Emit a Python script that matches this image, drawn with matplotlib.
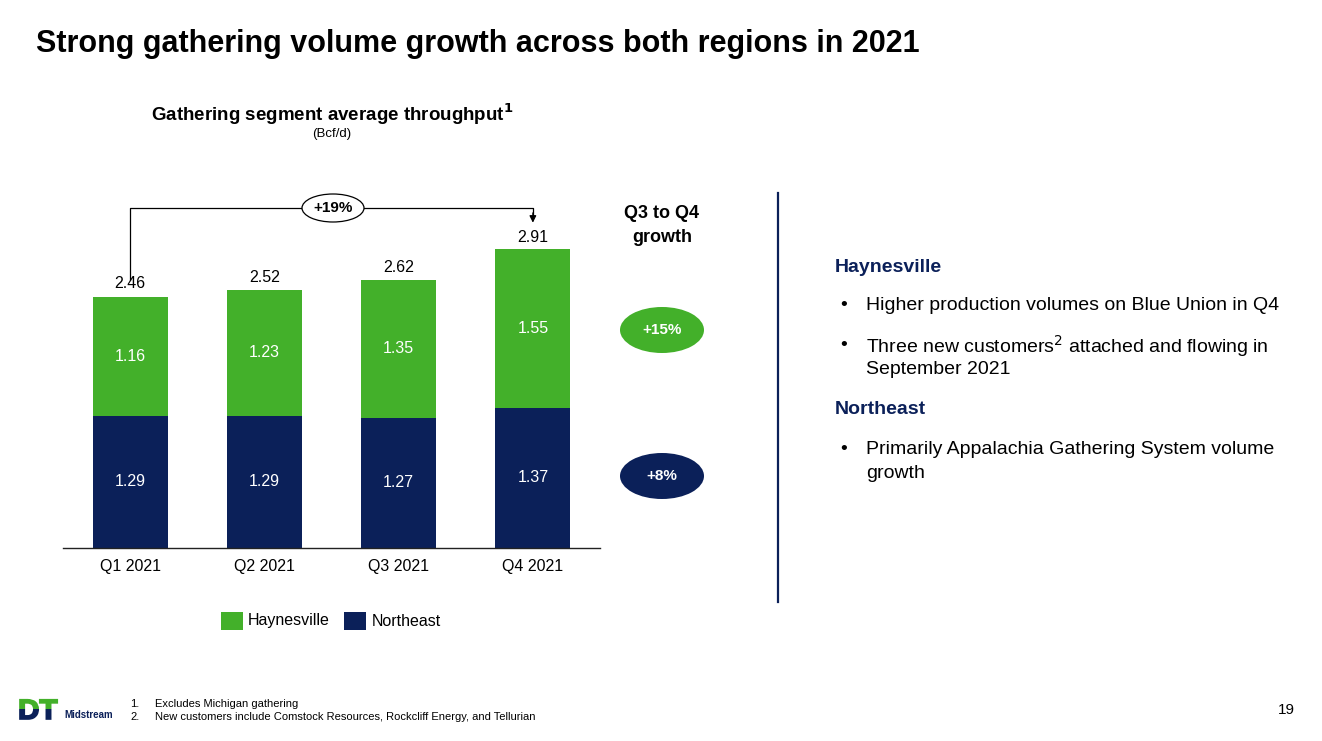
import matplotlib
matplotlib.use("Agg")
import matplotlib.pyplot as plt
from matplotlib.patches import Ellipse, Rectangle, PathPatch
from matplotlib.textpath import TextPath
from matplotlib.font_manager import FontProperties
from matplotlib.transforms import Affine2D
import numpy as np

# data
quarters = ["Q1 2021", "Q2 2021", "Q3 2021", "Q4 2021"]
northeast = [1.29, 1.29, 1.27, 1.37]
haynesville = [1.16, 1.23, 1.35, 1.55]
totals = [2.46, 2.52, 2.62, 2.91]
growth_total = "+19%"
growth_hay = "+15%"
growth_ne = "+8%"

GREEN = "#43B02A"
NAVY = "#0B2059"

plt.rcParams["font.family"] = ["Liberation Sans", "DejaVu Sans"]

W, H = 1322, 741
fig = plt.figure(figsize=(W / 100, H / 100), dpi=100)

# chart axes, placed in pixel terms
ax = fig.add_axes([63 / W, (H - 548) / H, 537 / W, 368 / H])
x = np.arange(len(quarters))
bw = 0.56
ax.bar(x, northeast, bw, color=NAVY, label="Northeast")
ax.bar(x, haynesville, bw, bottom=northeast, color=GREEN, label="Haynesville")
ax.set_xlim(-0.5, 3.5)
ax.set_ylim(0, 3.594)
for s in ["top", "right", "left"]:
    ax.spines[s].set_visible(False)
ax.spines["bottom"].set_color("#222222")
ax.spines["bottom"].set_linewidth(1.0)
ax.set_yticks([])
ax.set_xticks(x)
ax.set_xticklabels(quarters, fontsize=11.5)
ax.tick_params(axis="x", length=0, pad=8)

for i in x:
    ax.text(i, northeast[i] / 2, f"{northeast[i]:.2f}", ha="center", va="center",
            color="white", fontsize=11.5)
    ax.text(i, northeast[i] + haynesville[i] / 2, f"{haynesville[i]:.2f}",
            ha="center", va="center", color="white", fontsize=11.5)
    ax.text(i, totals[i] + 0.05, f"{totals[i]:.2f}", ha="center", va="bottom",
            color="black", fontsize=11.5)

# bracket from Q1 to Q4
top = max(totals) + 0.41
ax.plot([0, 0, 3, 3], [totals[0] + 0.16, top, top, top - 0.08], color="black", lw=0.9)
ax.annotate("", xy=(3, totals[3] + 0.24), xytext=(3, top - 0.02),
            arrowprops=dict(arrowstyle="-|>", color="black", lw=0.9, mutation_scale=10))

# overlay in pixel coordinates
bg = fig.add_axes([0, 0, 1, 1], zorder=5)
bg.patch.set_alpha(0)
bg.set_xlim(0, W)
bg.set_ylim(H, 0)
bg.axis("off")

bg.text(36, 44, "Strong gathering volume growth across both regions in 2021",
        fontsize=22, fontweight="bold", va="center", ha="left")

bg.text(332, 114, r"Gathering segment average throughput$^{\mathbf{1}}$", fontsize=13.5,
        fontweight="bold", ha="center", va="center")
bg.text(332, 134, "(Bcf/d)", fontsize=9.5, ha="center", va="center")

# +19% ellipse
bg.add_patch(Ellipse((333, 208), 62, 28, facecolor="white", edgecolor="black", lw=0.9))
bg.text(333, 208, growth_total, fontsize=11, fontweight="bold", ha="center", va="center")

# Q3 to Q4 growth column
bg.text(662, 214, "Q3 to Q4", fontsize=13, fontweight="bold", ha="center", va="center")
bg.text(662, 237, "growth", fontsize=13, fontweight="bold", ha="center", va="center")
bg.add_patch(Ellipse((662, 330), 84, 46, facecolor=GREEN, edgecolor="none"))
bg.text(662, 330, growth_hay, fontsize=11, fontweight="bold", color="white",
        ha="center", va="center")
bg.add_patch(Ellipse((662, 476), 84, 46, facecolor=NAVY, edgecolor="none"))
bg.text(662, 476, growth_ne, fontsize=11, fontweight="bold", color="white",
        ha="center", va="center")

# divider
bg.plot([778, 778], [193, 602], color=NAVY, lw=1.6)

# commentary
fs = 14
bg.text(835, 267, "Haynesville", fontsize=fs, fontweight="bold", color=NAVY, va="center")
bullets = [
    (306, "Higher production volumes on Blue Union in Q4"),
    (346, r"Three new customers$^{2}$ attached and flowing in"),
    (450, "Primarily Appalachia Gathering System volume"),
]
for yy, t in bullets:
    bg.text(840, yy, "•", fontsize=fs, va="center")
    bg.text(866, yy, t, fontsize=fs, va="center")
bg.text(866, 369, "September 2021", fontsize=fs, va="center")
bg.text(866, 473, "growth", fontsize=fs, va="center")
bg.text(835, 409, "Northeast", fontsize=fs, fontweight="bold", color=NAVY, va="center")

# legend
bg.add_patch(Rectangle((221, 612), 22, 18, facecolor=GREEN, edgecolor="none"))
bg.text(248, 621, "Haynesville", fontsize=11.5, va="center")
bg.add_patch(Rectangle((344, 612), 22, 18, facecolor=NAVY, edgecolor="none"))
bg.text(372, 621, "Northeast", fontsize=11.5, va="center")

# footnotes
bg.text(130, 704, "1.", fontsize=8, va="center")
bg.text(155, 704, "Excludes Michigan gathering", fontsize=8, va="center")
bg.text(130, 717, "2.", fontsize=8, va="center")
bg.text(155, 717, "New customers include Comstock Resources, Rockcliff Energy, and Tellurian",
        fontsize=8, va="center")
bg.text(1295, 710, "19", fontsize=11, ha="right", va="center")

# logo: DT split green over navy, then Midstream
fp = FontProperties(family="Liberation Sans", weight="black")
tp = TextPath((0, 0), "DT", size=28, prop=fp)
tr = Affine2D().scale(1.06, -1.0).translate(18, 719) + bg.transData
for col, (y0, y1) in [(NAVY, (709, 725)), (GREEN, (690, 709))]:
    pp = PathPatch(tp, facecolor=col, edgecolor=col, lw=1.2, transform=tr)
    bg.add_patch(pp)
    pp.set_clip_path(Rectangle((0, y0), 62, y1 - y0, transform=bg.transData))
bg.text(64, 715.5, "Midstream", fontsize=7, fontweight="bold", color=NAVY,
        va="center", ha="left")

fig.savefig("out.png", dpi=100)
